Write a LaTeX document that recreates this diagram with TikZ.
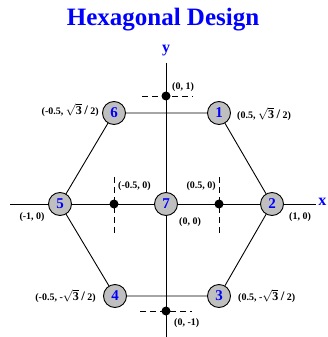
\documentclass[tikz,border=0pt]{standalone}
\usepackage{fontspec}
\setmainfont{Liberation Serif}
\newcommand{\rtthree}{{\fontsize{12}{12}\selectfont\ensuremath{\sqrt{\mathbf{3}}}}}
\newcommand{\bigslash}{{\fontsize{13}{13}\selectfont /}}
\begin{document}
\begin{tikzpicture}[x=1pt,y=-1pt,
  hexnode/.style={circle,draw=black,fill=gray!50,line width=0.9pt,minimum size=23pt,inner sep=0pt,font=\bfseries\fontsize{15}{15}\selectfont,text=blue},
  dotnode/.style={circle,fill=black,minimum size=9pt,inner sep=0pt},
  lbl/.style={font=\bfseries\fontsize{10}{11}\selectfont,inner sep=0pt},
  edge/.style={line width=0.9pt},
  dashline/.style={line width=0.9pt,dash pattern=on 6pt off 4pt}]
\useasboundingbox (0,0) rectangle (327,337);
\node[font=\bfseries\fontsize{25}{26}\selectfont,text=blue] (title) at (163,20) {Hexagonal Design};
% axes
\coordinate (ytop) at (166,63);
\coordinate (ybot) at (166,337);
\coordinate (xl) at (10,204);
\coordinate (xr) at (316,204);
\node[font=\bfseries\fontsize{16}{16}\selectfont,text=blue] (ylab) at (166,51) {y};
\node[font=\bfseries\fontsize{16}{16}\selectfont,text=blue,anchor=east,inner sep=0pt] (xlab) at (326.5,202) {x};
\draw[edge] (ytop) -- (ybot);
\draw[edge] (xl) -- (xr);
% dashed markers
\coordinate (d1a) at (142,96); \coordinate (d1b) at (193,96);
\coordinate (d2a) at (140,311); \coordinate (d2b) at (192,311);
\coordinate (d3a) at (114,177); \coordinate (d3b) at (114,234);
\coordinate (d4a) at (219,177); \coordinate (d4b) at (219,234);
\draw[dashline] (d1a) -- (d1b);
\draw[dashline] (d2a) -- (d2b);
\draw[dashline] (d3a) -- (d3b);
\draw[dashline] (d4a) -- (d4b);
% nodes
\node[hexnode] (n1) at (219,113) {1};
\node[hexnode] (n2) at (272,204) {2};
\node[hexnode] (n3) at (219,296) {3};
\node[hexnode] (n4) at (115,296) {4};
\node[hexnode] (n5) at (60,204) {5};
\node[hexnode] (n6) at (114,113) {6};
\draw[edge] (n6) -- (n1) -- (n2) -- (n3) -- (n4) -- (n5) -- (n6);
\node[hexnode] (n7) at (166,204) {7};
\node[dotnode] (p1) at (166,96) {};
\node[dotnode] (p2) at (166,311) {};
\node[dotnode] (p3) at (114,204) {};
\node[dotnode] (p4) at (219,204) {};
% labels
\node[lbl,anchor=west] (l01) at (172,87) {(0, 1)};
\node[lbl,anchor=east] (l6) at (99,110) {(-0.5, \rtthree{} \bigslash{} 2)};
\node[lbl,anchor=west] (l1) at (237,114) {(0.5, \rtthree{} \bigslash{} 2)};
\node[lbl,anchor=west] (lm5) at (118,186) {(-0.5, 0)};
\node[lbl,anchor=east] (lp5) at (216,186) {(0.5, 0)};
\node[lbl] (lm1) at (32,217) {(-1, 0)};
\node[lbl] (l00) at (190,222) {(0, 0)};
\node[lbl] (lp1) at (300,217) {(1, 0)};
\node[lbl,anchor=east] (l4) at (96,296) {(-0.5, -\rtthree{} \bigslash{} 2)};
\node[lbl,anchor=west] (l3) at (238,296) {(0.5, -\rtthree{} \bigslash{} 2)};
\node[lbl,anchor=west] (l0m1) at (174,323) {(0, -1)};
\end{tikzpicture}
\end{document}
